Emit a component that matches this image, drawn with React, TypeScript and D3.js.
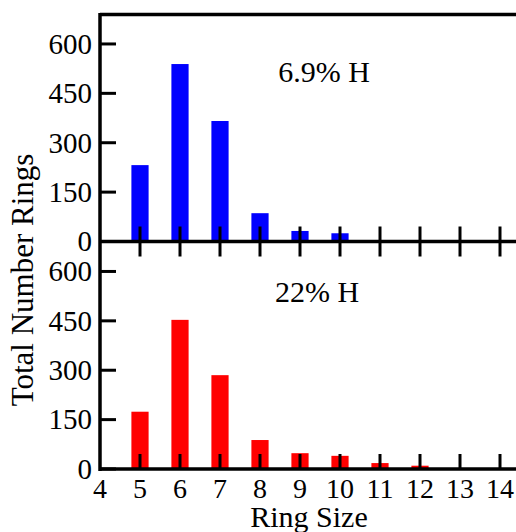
import React, { useRef, useEffect } from "react";
import * as d3 from "d3";

const ringSizes = [5, 6, 7, 8, 9, 10, 11, 12, 13, 14];
const countsLowH = [232, 539, 366, 86, 32, 25, 4, 0, 0, 0];
const countsHighH = [174, 453, 285, 88, 48, 40, 18, 10, 0, 0];
const panelLabels = ["6.9% H", "22% H"];
const yTicks = [0, 150, 300, 450, 600];
const xTicks = [4, 5, 6, 7, 8, 9, 10, 11, 12, 13, 14];

const W = 516;
const H = 532;
const font = "'Liberation Serif', 'Times New Roman', serif";

const App = () => {
    const ref = useRef(null);

    useEffect(() => {
        const svg = d3.select(ref.current);
        svg.selectAll("*").remove();

        const x = d3.scaleLinear().domain([4, 14.4]).range([100, 516]);
        const barW = x(4.43) - x(4);

        const panels = [
            { data: countsLowH, color: "#0000ff", top: 14, bottom: 241.5, label: panelLabels[0], lx: 324, ly: 82, topTicks: false },
            { data: countsHighH, color: "#ff0000", top: 241.5, bottom: 469, label: panelLabels[1], lx: 317, ly: 302, topTicks: true },
        ];

        panels.forEach((p) => {
            const y = d3.scaleLinear().domain([0, 691]).range([p.bottom, p.top]);
            const g = svg.append("g");

            // bars
            g.selectAll("rect")
                .data(ringSizes.map((r, i) => ({ r, v: p.data[i] })))
                .enter()
                .append("rect")
                .attr("x", (d) => x(d.r) - barW / 2)
                .attr("y", (d) => y(d.v))
                .attr("width", barW)
                .attr("height", (d) => y(0) - y(d.v))
                .attr("fill", p.color);

            // x ticks (inward)
            g.selectAll(".xt")
                .data(ringSizes)
                .enter()
                .append("line")
                .attr("x1", (d) => x(d))
                .attr("x2", (d) => x(d))
                .attr("y1", p.bottom)
                .attr("y2", p.bottom - 15)
                .attr("stroke", "#000")
                .attr("stroke-width", 3);

            if (p.topTicks) {
                g.selectAll(".xtt")
                    .data(ringSizes)
                    .enter()
                    .append("line")
                    .attr("x1", (d) => x(d))
                    .attr("x2", (d) => x(d))
                    .attr("y1", p.top)
                    .attr("y2", p.top + 15)
                    .attr("stroke", "#000")
                    .attr("stroke-width", 3);
            }

            // y ticks
            g.selectAll(".yt")
                .data(yTicks)
                .enter()
                .append("line")
                .attr("x1", 100)
                .attr("x2", 116)
                .attr("y1", (d) => y(d))
                .attr("y2", (d) => y(d))
                .attr("stroke", "#000")
                .attr("stroke-width", 3);

            g.selectAll(".yl")
                .data(yTicks)
                .enter()
                .append("text")
                .attr("x", 92)
                .attr("y", (d) => y(d))
                .attr("dy", "0.34em")
                .attr("text-anchor", "end")
                .attr("font-family", font)
                .attr("font-size", 29)
                .text((d) => d);

            // bottom axis line
            g.append("line")
                .attr("x1", 100)
                .attr("x2", W)
                .attr("y1", p.bottom)
                .attr("y2", p.bottom)
                .attr("stroke", "#000")
                .attr("stroke-width", 3.5);

            g.append("text")
                .attr("x", p.lx)
                .attr("y", p.ly)
                .attr("text-anchor", "middle")
                .attr("font-family", font)
                .attr("font-size", 30)
                .text(p.label);
        });

        // top border and left axis
        svg.append("line")
            .attr("x1", 100)
            .attr("x2", W)
            .attr("y1", 14.5)
            .attr("y2", 14.5)
            .attr("stroke", "#000")
            .attr("stroke-width", 3.5);
        svg.append("line")
            .attr("x1", 100)
            .attr("x2", 100)
            .attr("y1", 13)
            .attr("y2", 471)
            .attr("stroke", "#000")
            .attr("stroke-width", 3.5);

        svg.selectAll(".xl")
            .data(xTicks)
            .enter()
            .append("text")
            .attr("x", (d) => x(d))
            .attr("y", 498)
            .attr("text-anchor", "middle")
            .attr("font-family", font)
            .attr("font-size", 28)
            .text((d) => d);

        svg.append("text")
            .attr("x", 309)
            .attr("y", 527)
            .attr("text-anchor", "middle")
            .attr("font-family", font)
            .attr("font-size", 30)
            .text("Ring Size");

        svg.append("text")
            .attr("transform", "translate(33,280) rotate(-90)")
            .attr("text-anchor", "middle")
            .attr("font-family", font)
            .attr("font-size", 31)
            .text("Total Number Rings");
    }, []);

    return (
        <svg
            ref={ref}
            width={W}
            height={H}
            style={{ position: "absolute", left: 0, top: 0, background: "#fff" }}
        />
    );
};

export default App;
